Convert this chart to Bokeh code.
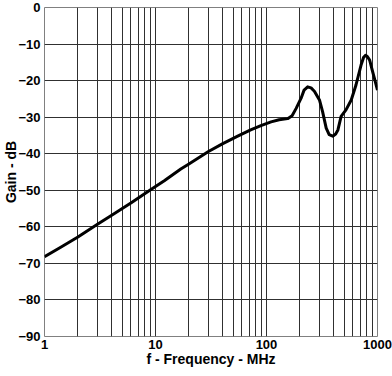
from bokeh.plotting import figure
from bokeh.models import FixedTicker, Range1d
from bokeh.embed import file_html
from bokeh.resources import INLINE

freq_mhz = [1, 1.4, 2.0, 3.0, 4.0, 6.0, 9.1, 12, 16.9, 20, 30, 40, 55, 72, 89, 110,
            130, 155, 170, 185, 205, 218, 235, 252, 270, 300, 320, 345, 367, 395, 420,
            440, 470, 520, 580, 640, 710, 750, 780, 810, 850, 905, 1000]
gain_db = [-68.2, -65.6, -62.8, -59.3, -56.9, -53.5, -49.8, -47.4, -44.2, -42.8, -39.4,
           -37.3, -35.2, -33.5, -32.3, -31.3, -30.7, -30.4, -29.6, -27.6, -24.8, -22.6,
           -21.7, -22.0, -22.9, -25.3, -28.5, -33.0, -34.8, -35.2, -34.6, -33.5, -29.8,
           -28.0, -25.3, -21.2, -15.8, -13.6, -13.1, -13.4, -14.4, -17.6, -22.6]

x_major_ticks = [1, 10, 100, 1000]
x_grid_ticks = [m * d for d in (1, 10, 100) for m in range(1, 10)] + [1000]
y_ticks = [-90, -80, -70, -60, -50, -40, -30, -20, -10, 0]

FONT = "Liberation Sans"

p = figure(width=392, height=376, x_axis_type="log", output_backend="svg",
           toolbar_location=None, x_range=Range1d(1, 1000), y_range=Range1d(-90, 0),
           min_border_left=43, min_border_right=15, min_border_top=7, min_border_bottom=40)

p.line(freq_mhz, gain_db, line_color="black", line_width=3, line_join="round")

p.outline_line_color = "#808080"
p.outline_line_width = 1
p.background_fill_color = "white"
p.border_fill_color = "white"

p.xgrid.ticker = FixedTicker(ticks=x_grid_ticks)
p.ygrid.ticker = FixedTicker(ticks=y_ticks)
for g in (p.xgrid, p.ygrid):
    g.grid_line_color = "#303030"
    g.grid_line_width = 1
    g.grid_line_alpha = 1.0

p.xaxis.ticker = FixedTicker(ticks=x_major_ticks)
p.xaxis.major_label_overrides = {t: str(t) for t in x_major_ticks}
p.yaxis.ticker = FixedTicker(ticks=y_ticks)

for ax in (p.xaxis, p.yaxis):
    ax.axis_line_color = None
    ax.major_tick_line_color = None
    ax.minor_tick_line_color = None
    ax.major_tick_out = 0
    ax.major_tick_in = 0
    ax.minor_tick_out = 0
    ax.minor_tick_in = 0
    ax.major_label_text_font = FONT
    ax.major_label_text_font_style = "bold"
    ax.major_label_text_font_size = "13px"
    ax.major_label_text_color = "black"
    ax.axis_label_text_font = FONT
    ax.axis_label_text_font_style = "bold"
    ax.axis_label_text_font_size = "14px"
    ax.axis_label_text_color = "black"

p.yaxis.major_label_standoff = 4
p.yaxis.axis_label_standoff = -4
p.xaxis.major_label_standoff = 3
p.xaxis.axis_label_standoff = -1

p.xaxis.axis_label = "f - Frequency - MHz"
p.yaxis.axis_label = "Gain - dB"

open("out.html", "w").write(file_html(p, INLINE))
